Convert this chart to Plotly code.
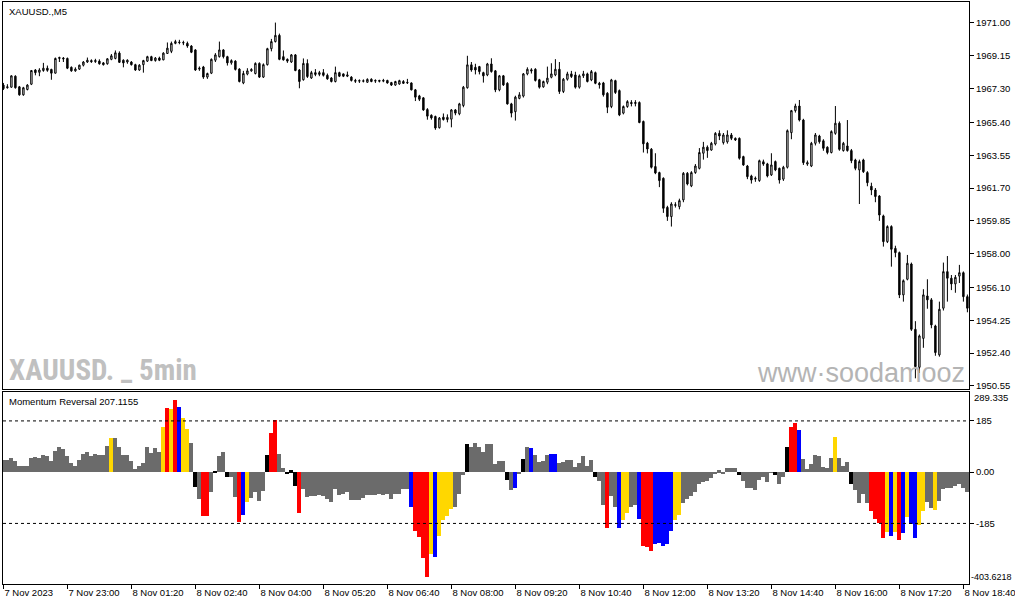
import plotly.graph_objects as go

# --- price data (M5 candles) ---
open_ = [
    1967.50, 1967.35, 1967.38, 1968.00, 1967.40, 1966.95, 1967.25, 1967.55, 1968.35, 1968.22,
    1968.32, 1968.45, 1968.38, 1968.17, 1969.00, 1969.02, 1969.00, 1968.50, 1968.30, 1968.40,
    1968.62, 1968.80, 1968.88, 1968.82, 1968.85, 1968.75, 1968.70, 1968.95, 1969.00, 1969.30,
    1968.90, 1968.80, 1968.80, 1968.65, 1968.35, 1968.65, 1968.85, 1969.10, 1968.88, 1969.02,
    1968.92, 1969.28, 1969.40, 1969.85, 1969.92, 1969.90, 1969.85, 1969.70, 1969.48, 1968.40,
    1968.52, 1967.95, 1968.17, 1968.90, 1969.10, 1969.48, 1969.10, 1968.75, 1968.85, 1968.40,
    1967.62, 1968.12, 1968.30, 1968.15, 1968.72, 1967.95, 1968.65, 1969.55, 1969.95, 1970.30,
    1969.10, 1968.95, 1968.80, 1969.20, 1968.35, 1967.80, 1968.72, 1967.90, 1968.20, 1968.10,
    1968.20, 1968.05, 1967.90, 1967.70, 1968.20, 1968.13, 1968.00, 1967.95, 1967.76, 1967.72,
    1967.74, 1967.66, 1967.83, 1967.72, 1967.76, 1967.72, 1967.76, 1967.64, 1967.50, 1967.56,
    1967.70, 1967.62, 1967.62, 1967.23, 1966.89, 1966.78, 1966.12, 1965.80, 1965.73, 1965.10,
    1965.69, 1965.56, 1965.58, 1966.10, 1965.88, 1966.35, 1967.35, 1968.64, 1968.50, 1968.54,
    1968.20, 1968.07, 1968.69, 1968.30, 1967.23, 1968.02, 1967.60, 1966.44, 1966.00, 1966.75,
    1966.88, 1968.13, 1968.36, 1968.39, 1967.80, 1967.40, 1967.66, 1967.94, 1968.07, 1968.39,
    1967.14, 1967.83, 1968.13, 1968.07, 1967.38, 1968.02, 1968.13, 1967.79, 1968.20, 1967.60,
    1967.62, 1967.04, 1966.29, 1967.75, 1967.19, 1965.92, 1966.29, 1966.52, 1966.46, 1966.52,
    1965.45, 1964.23, 1963.89, 1962.91, 1962.57, 1962.25, 1960.61, 1960.09, 1960.72, 1960.65,
    1961.03, 1962.53, 1961.82, 1962.57, 1962.81, 1963.66, 1964.00, 1963.84, 1964.18, 1964.78,
    1964.26, 1964.30, 1964.69, 1964.50, 1964.50, 1963.47, 1962.94, 1962.38, 1962.20, 1962.12,
    1963.18, 1963.06, 1962.44, 1963.19, 1962.81, 1962.20, 1962.87, 1964.82, 1966.06, 1966.32,
    1965.53, 1963.05, 1962.94, 1964.22, 1964.63, 1964.36, 1964.00, 1963.70, 1964.78, 1965.35,
    1963.81, 1964.07, 1963.81, 1963.28, 1962.72, 1963.28, 1962.57, 1961.80, 1961.59, 1961.25,
    1960.13, 1958.68, 1959.53, 1958.30, 1958.06, 1955.68, 1956.56, 1957.42, 1953.74, 1951.60,
    1953.23, 1955.62, 1955.40, 1953.93, 1952.30, 1954.93, 1956.99, 1956.62, 1956.30, 1956.74,
    1956.93, 1955.58,
]
high = [
    1967.62, 1967.55, 1968.05, 1968.05, 1967.45, 1967.40, 1967.55, 1968.35, 1968.40, 1968.45,
    1968.75, 1968.60, 1968.42, 1969.05, 1969.10, 1969.08, 1969.05, 1968.55, 1968.50, 1968.65,
    1968.85, 1969.05, 1968.95, 1968.98, 1968.95, 1968.80, 1969.02, 1969.25, 1969.45, 1969.40,
    1968.95, 1968.95, 1968.85, 1968.70, 1968.68, 1968.92, 1969.15, 1969.15, 1969.08, 1969.10,
    1969.35, 1969.90, 1969.95, 1970.05, 1970.05, 1970.00, 1969.95, 1969.75, 1969.52, 1968.55,
    1968.58, 1968.20, 1969.00, 1969.30, 1969.95, 1969.52, 1969.15, 1968.95, 1968.90, 1968.45,
    1968.30, 1968.45, 1968.45, 1968.78, 1968.78, 1968.72, 1969.60, 1970.10, 1971.02, 1970.40,
    1969.45, 1969.00, 1969.25, 1969.25, 1968.40, 1969.00, 1968.95, 1968.30, 1968.40, 1968.30,
    1968.40, 1968.15, 1967.95, 1968.54, 1968.25, 1968.15, 1968.26, 1968.00, 1967.85, 1967.82,
    1967.82, 1967.88, 1967.88, 1967.82, 1967.80, 1967.85, 1967.80, 1967.68, 1967.74, 1967.80,
    1967.78, 1967.85, 1967.65, 1967.28, 1966.95, 1966.82, 1966.20, 1965.85, 1965.78, 1965.70,
    1965.90, 1965.85, 1966.15, 1966.15, 1966.50, 1967.45, 1969.15, 1968.80, 1968.70, 1968.58,
    1968.25, 1968.75, 1969.01, 1968.35, 1968.07, 1968.07, 1967.66, 1966.50, 1966.90, 1967.10,
    1968.18, 1968.50, 1968.45, 1968.45, 1967.85, 1967.75, 1968.54, 1968.73, 1968.96, 1968.80,
    1967.90, 1968.25, 1968.30, 1968.25, 1968.10, 1968.30, 1968.20, 1968.35, 1968.26, 1967.68,
    1967.68, 1967.10, 1967.85, 1967.80, 1967.25, 1966.35, 1966.65, 1966.65, 1966.65, 1966.58,
    1965.50, 1964.30, 1963.95, 1963.66, 1962.62, 1962.30, 1960.70, 1960.90, 1960.90, 1961.10,
    1962.60, 1962.60, 1962.65, 1963.05, 1963.95, 1964.30, 1964.10, 1964.30, 1964.85, 1964.95,
    1964.80, 1964.95, 1964.80, 1964.55, 1964.55, 1963.52, 1963.00, 1962.45, 1962.35, 1963.30,
    1963.30, 1963.12, 1963.66, 1963.25, 1962.85, 1962.95, 1965.00, 1966.10, 1966.45, 1966.66,
    1965.60, 1963.25, 1964.30, 1964.80, 1964.70, 1964.45, 1964.05, 1964.95, 1966.32, 1965.45,
    1964.30, 1965.53, 1963.90, 1963.35, 1963.30, 1963.35, 1962.65, 1962.00, 1961.70, 1961.30,
    1960.20, 1959.60, 1959.60, 1958.45, 1958.12, 1956.55, 1957.93, 1957.50, 1954.20, 1953.45,
    1956.00, 1956.56, 1955.50, 1954.00, 1955.30, 1957.50, 1957.87, 1956.80, 1956.80, 1957.37,
    1957.00, 1955.70,
]
low = [
    1967.22, 1967.30, 1967.35, 1967.30, 1966.90, 1966.90, 1967.20, 1967.50, 1968.05, 1968.00,
    1968.25, 1968.25, 1967.80, 1968.15, 1968.80, 1968.80, 1968.40, 1968.25, 1968.25, 1968.35,
    1968.55, 1968.75, 1968.75, 1968.75, 1968.65, 1968.60, 1968.65, 1968.90, 1968.95, 1968.75,
    1968.50, 1968.70, 1968.60, 1968.30, 1968.30, 1968.20, 1968.80, 1968.85, 1968.82, 1968.85,
    1968.90, 1969.25, 1969.30, 1969.80, 1969.80, 1969.75, 1969.60, 1969.30, 1968.30, 1968.30,
    1967.85, 1967.85, 1968.12, 1968.80, 1969.05, 1969.00, 1968.60, 1968.65, 1968.32, 1967.65,
    1967.55, 1968.05, 1968.25, 1968.10, 1967.90, 1967.90, 1968.60, 1969.40, 1969.90, 1968.90,
    1968.88, 1968.75, 1968.75, 1968.28, 1967.32, 1967.75, 1967.90, 1967.85, 1968.00, 1968.00,
    1967.98, 1967.80, 1967.65, 1967.65, 1967.95, 1967.95, 1967.95, 1967.70, 1967.62, 1967.62,
    1967.65, 1967.62, 1967.66, 1967.62, 1967.65, 1967.66, 1967.58, 1967.45, 1967.46, 1967.52,
    1967.56, 1967.56, 1967.20, 1966.60, 1966.60, 1966.05, 1965.55, 1965.55, 1964.98, 1965.05,
    1965.50, 1965.40, 1965.12, 1965.80, 1965.80, 1966.25, 1967.30, 1968.25, 1968.10, 1968.10,
    1967.64, 1968.00, 1968.20, 1967.10, 1967.15, 1967.45, 1966.40, 1965.68, 1965.50, 1966.70,
    1966.80, 1968.05, 1968.15, 1967.70, 1967.30, 1967.35, 1967.55, 1967.88, 1968.00, 1967.00,
    1967.05, 1967.75, 1967.90, 1967.30, 1967.30, 1967.90, 1967.65, 1967.72, 1967.55, 1967.30,
    1966.85, 1965.92, 1966.20, 1967.00, 1965.75, 1965.85, 1966.22, 1966.30, 1966.30, 1965.35,
    1963.70, 1963.65, 1962.80, 1962.48, 1961.75, 1960.30, 1959.85, 1959.53, 1960.60, 1960.50,
    1960.90, 1961.85, 1961.75, 1962.50, 1962.75, 1963.30, 1963.40, 1963.80, 1964.10, 1964.40,
    1964.15, 1964.20, 1964.40, 1964.35, 1963.30, 1962.95, 1962.20, 1961.95, 1962.05, 1962.05,
    1962.95, 1962.30, 1962.38, 1962.65, 1961.95, 1962.10, 1962.80, 1964.45, 1965.95, 1965.45,
    1963.00, 1962.95, 1962.88, 1964.10, 1964.20, 1963.80, 1963.60, 1963.65, 1964.70, 1963.80,
    1963.75, 1963.75, 1963.10, 1962.70, 1960.80, 1962.55, 1961.80, 1961.30, 1960.90, 1959.85,
    1958.40, 1958.60, 1957.27, 1957.80, 1955.50, 1955.30, 1956.50, 1953.65, 1950.98, 1951.28,
    1952.70, 1954.90, 1953.80, 1952.25, 1952.20, 1954.80, 1955.30, 1955.95, 1955.80, 1956.35,
    1955.30, 1954.70,
]
close = [
    1967.30, 1967.40, 1968.02, 1967.35, 1966.95, 1967.35, 1967.50, 1968.32, 1968.20, 1968.35,
    1968.45, 1968.33, 1968.17, 1969.00, 1969.05, 1968.98, 1968.45, 1968.30, 1968.40, 1968.62,
    1968.80, 1968.90, 1968.82, 1968.88, 1968.70, 1968.65, 1968.98, 1969.15, 1969.32, 1968.78,
    1968.75, 1968.90, 1968.65, 1968.35, 1968.62, 1968.88, 1969.10, 1968.88, 1969.02, 1968.90,
    1969.30, 1969.58, 1969.85, 1969.95, 1969.90, 1969.88, 1969.70, 1969.35, 1968.35, 1968.45,
    1967.95, 1968.15, 1968.95, 1969.20, 1969.48, 1969.10, 1968.75, 1968.88, 1968.38, 1967.70,
    1968.15, 1968.30, 1968.38, 1968.72, 1967.95, 1968.65, 1969.55, 1969.95, 1970.30, 1968.95,
    1968.92, 1968.85, 1969.20, 1968.32, 1967.70, 1968.72, 1967.98, 1968.20, 1968.10, 1968.20,
    1968.05, 1967.85, 1967.70, 1968.20, 1968.00, 1968.00, 1968.07, 1967.76, 1967.72, 1967.75,
    1967.72, 1967.82, 1967.70, 1967.76, 1967.72, 1967.76, 1967.62, 1967.50, 1967.70, 1967.75,
    1967.60, 1967.65, 1967.23, 1966.82, 1966.70, 1966.10, 1965.75, 1965.65, 1965.08, 1965.64,
    1965.56, 1965.68, 1966.10, 1965.92, 1966.44, 1967.38, 1968.64, 1968.35, 1968.35, 1968.26,
    1968.02, 1968.69, 1968.26, 1967.23, 1968.02, 1967.51, 1966.44, 1965.92, 1966.82, 1966.95,
    1968.13, 1968.39, 1968.30, 1967.76, 1967.38, 1967.70, 1967.89, 1968.13, 1968.39, 1967.14,
    1967.83, 1968.13, 1967.98, 1967.38, 1968.02, 1968.13, 1967.70, 1968.26, 1967.60, 1967.52,
    1966.95, 1966.25, 1967.79, 1967.08, 1965.82, 1966.29, 1966.57, 1966.46, 1966.52, 1965.39,
    1964.19, 1963.90, 1962.87, 1962.55, 1962.12, 1960.56, 1960.09, 1960.80, 1960.76, 1960.99,
    1962.53, 1961.93, 1962.57, 1962.94, 1963.70, 1964.00, 1963.81, 1964.22, 1964.78, 1964.63,
    1964.69, 1964.69, 1964.50, 1964.41, 1963.38, 1963.00, 1962.34, 1962.15, 1962.25, 1963.24,
    1963.05, 1962.38, 1963.00, 1962.72, 1962.15, 1962.87, 1964.93, 1966.06, 1966.32, 1965.53,
    1963.13, 1963.13, 1964.22, 1964.69, 1964.31, 1963.94, 1963.70, 1964.88, 1965.35, 1963.88,
    1964.22, 1963.81, 1963.24, 1962.81, 1963.19, 1962.62, 1962.00, 1961.59, 1961.22, 1960.18,
    1958.68, 1959.53, 1958.25, 1958.06, 1955.68, 1956.48, 1957.46, 1953.74, 1951.64, 1953.37,
    1955.68, 1955.40, 1953.99, 1952.43, 1954.87, 1956.99, 1956.62, 1956.30, 1956.67, 1956.93,
    1955.58, 1954.93,
]

# --- Momentum Reversal histogram ---
momentum = [
    45, 45, 51, 41, 24, 21, 24, 51, 54, 51,
    61, 57, 41, 78, 90, 85, 57, 33, 24, 45,
    66, 73, 57, 66, 63, 63, 94, 124, 122, 90,
    63, 63, 39, 11, 24, 33, 90, 69, 88, 73,
    163, 231, 228, 260, 234, 195, 155, 106, -54, -97,
    -159, -159, -71, 2, 57, 73, -18, -18, -90, -180,
    -156, -107, -95, -73, -103, -68, 61, 142, 190, 66,
    15, -5, 7, -50, -146, -61, -89, -85, -85, -83,
    -85, -97, -107, -61, -83, -80, -73, -101, -101, -101,
    -95, -83, -83, -83, -80, -83, -80, -97, -80, -80,
    -61, -61, -127, -214, -235, -309, -378, -296, -305, -231,
    -174, -158, -134, -124, -80, -12, 103, 91, 106, 91,
    73, 102, 102, 29, 41, 41, -29, -65, -56, -5,
    49, 92, 88, 61, 37, 39, 63, 66, 66, 32,
    37, 45, 45, 17, 33, 57, 21, 45, -18, -32,
    -117, -200, -85, -125, -200, -174, -146, -125, -119, -170,
    -265, -271, -284, -259, -256, -265, -259, -211, -174, -156,
    -110, -97, -85, -71, -41, -37, -32, -22, -4, 7,
    -4, 15, 15, 15, -10, -32, -56, -58, -65, -28,
    -16, -37, -2, -10, -43, -19, 91, 164, 179, 153,
    49, 12, 29, 62, 60, 17, 15, 51, 128, 51,
    23, 37, -44, -65, -113, -80, -113, -141, -170, -183,
    -236, -217, -229, -217, -243, -221, -163, -186, -236, -190,
    -139, -107, -129, -138, -105, -61, -56, -58, -49, -44,
    -56, -73,
]
# g=neutral, r=red, y=gold, b=blue, k=black buffer
momentum_state = (
    "gggggggggg" "gggggggggg" "gggggggygg" "gggggggggg" "yryrbyygkg"
    "rrgkggkggr" "byggggkrrg" "gkkkrggggg" "gggggggggg" "gggggggggg"
    "ggbrrrryby" "yyygggkggg" "ggggggkgbg" "kgbggggbbg" "ggggggggkg"
    "grggbyyggb" "rrrbbbbbyy" "gggggggggg" "ggggkggggg" "gggkggkrrb"
    "ggggggggyg" "ggkggggrrr" "rybyrbybby" "yggygggggg" "gg"
)
levels = [185, -185]

time_labels = [
    "7 Nov 2023", "7 Nov 23:00", "8 Nov 01:20", "8 Nov 02:40", "8 Nov 04:00",
    "8 Nov 05:20", "8 Nov 06:40", "8 Nov 08:00", "8 Nov 09:20", "8 Nov 10:40",
    "8 Nov 12:00", "8 Nov 13:20", "8 Nov 14:40", "8 Nov 16:00", "8 Nov 17:20",
    "8 Nov 18:40",
]
label_bars = list(range(0, 241, 16))
price_ticks = [1971.00, 1969.15, 1967.30, 1965.40, 1963.55, 1961.70,
               1959.85, 1958.00, 1956.10, 1954.25, 1952.40, 1950.55]
momentum_ticks = [185, 0, -185]
momentum_ticktext = ["185", "0.00", "-185"]

colour_map = {"g": "#6b6b6b", "r": "#ff0000", "y": "#ffd700",
              "b": "#0000ff", "k": "#000000"}
bar_idx = list(range(len(close)))
small_font = "Liberation Sans, Arial, sans-serif"

fig = go.Figure()

fig.add_trace(go.Candlestick(
    x=bar_idx, open=open_, high=high, low=low, close=close,
    increasing=dict(line=dict(color="black", width=1), fillcolor="white"),
    decreasing=dict(line=dict(color="black", width=1), fillcolor="black"),
    whiskerwidth=0, hoverinfo="skip", xaxis="x", yaxis="y",
))

fig.add_trace(go.Bar(
    x=bar_idx, y=momentum,
    marker=dict(color=[colour_map[c] for c in momentum_state], line_width=0),
    hoverinfo="skip", xaxis="x2", yaxis="y2",
))

for lvl in levels:
    fig.add_shape(type="line", xref="x2 domain", x0=0, x1=1, yref="y2", y0=lvl, y1=lvl,
                  line=dict(color="black", width=1, dash="3px,3px"))

axis_common = dict(showgrid=False, zeroline=False, showline=True, mirror=True,
                   linecolor="black", linewidth=1, tickcolor="black", automargin=False)
x_range = [-0.1, 241.4]

fig.update_layout(
    width=1015, height=605,
    margin=dict(l=3, r=46, t=2, b=21),
    paper_bgcolor="white", plot_bgcolor="white",
    showlegend=False, bargap=0, boxgap=0.5,
    font=dict(family=small_font, size=9.5, color="black"),
    xaxis=dict(domain=[0, 1], anchor="y", range=x_range, rangeslider=dict(visible=False),
               showticklabels=False, ticks="", matches="x2", **axis_common),
    yaxis=dict(domain=[0.3351, 1], anchor="x", side="right", range=[1950.38, 1972.18],
               tickvals=price_ticks, ticktext=[f"{v:.2f}" for v in price_ticks],
               ticks="outside", ticklen=4, **axis_common),
    xaxis2=dict(domain=[0, 1], anchor="y2", range=x_range,
                tickvals=label_bars, ticktext=time_labels,
                ticks="outside", ticklen=4, ticklabelposition="outside right",
                ticklabeloverflow="allow", **axis_common),
    yaxis2=dict(domain=[0, 0.3299], anchor="x2", side="right", range=[-403.6218, 289.335],
                tickvals=momentum_ticks, ticktext=momentum_ticktext,
                ticks="outside", ticklen=4, **axis_common),
)

# labels
fig.add_annotation(text="XAUUSD.,M5", xref="paper", yref="paper", x=0.0041, y=0.9845,
                   xanchor="left", yanchor="middle", showarrow=False,
                   font=dict(family=small_font, size=9.5, color="black"))
fig.add_annotation(text="Momentum Reversal 207.1155", xref="paper", yref="paper",
                   x=0.0041, y=0.3144, xanchor="left", yanchor="middle", showarrow=False,
                   font=dict(family=small_font, size=9.5, color="black"))
fig.add_annotation(text="289.335", xref="paper", yref="paper", x=1, xshift=3, y=0.3196,
                   xanchor="left", yanchor="middle", showarrow=False,
                   font=dict(family=small_font, size=9.5, color="black"))
fig.add_annotation(text="-403.6218", xref="paper", yref="paper", x=1, xshift=0, y=0.012,
                   xanchor="left", yanchor="middle", showarrow=False,
                   font=dict(family=small_font, size=9, color="black"))

# watermarks
fig.add_annotation(text="<b>XAUUSD. _ 5min</b>", xref="paper", yref="paper", x=0.0041, y=0.3677,
                   xanchor="left", yanchor="middle", showarrow=False,
                   font=dict(family="Roboto Condensed, Roboto", size=29, color="#c0c0c0"))
fig.add_annotation(text="www·soodamooz", xref="paper", yref="paper", x=0.7785, y=0.3625,
                   xanchor="left", yanchor="middle", showarrow=False,
                   font=dict(family="Liberation Sans, Arial, sans-serif", size=27, color="#b4b4b4"))

# the page body has a default 8px margin; drop it so the figure sits at the window origin
fig.write_html("out.html", config={"displayModeBar": False},
               post_script="document.body.style.margin='0';")
